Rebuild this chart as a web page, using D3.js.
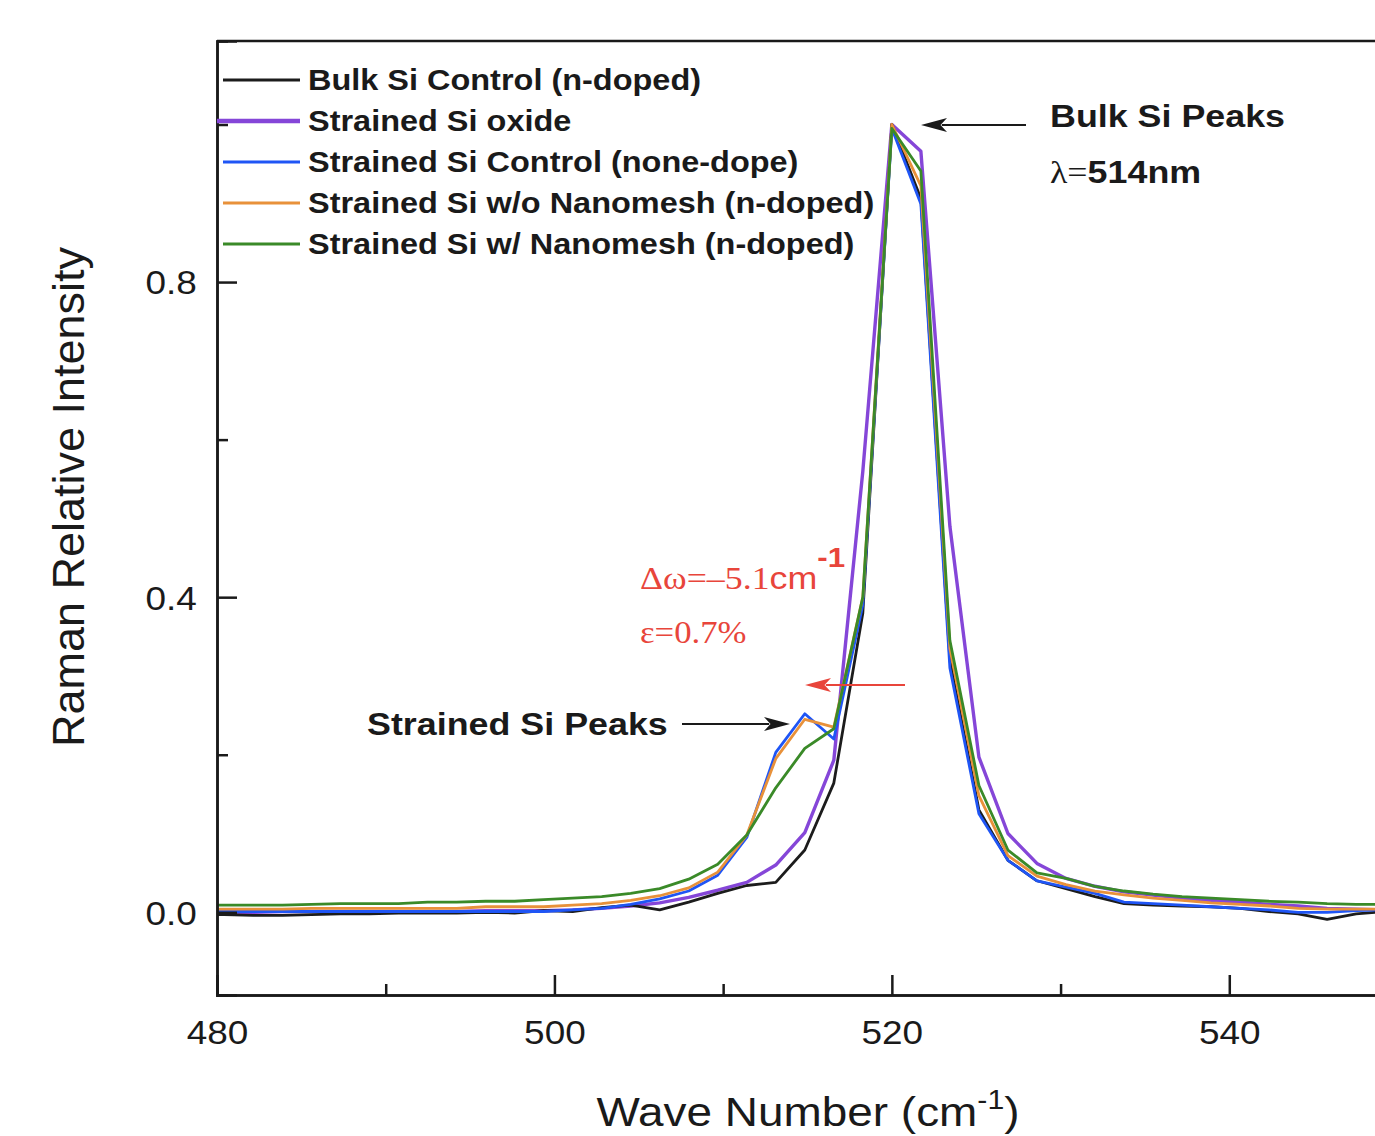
<!DOCTYPE html>
<html>
<head>
<meta charset="utf-8">
<script src="https://cdn.jsdelivr.net/npm/d3@7"></script>
<style>
  body { margin: 0; background: #fff; }
  svg { display: block; }
  .axis path, .axis line { stroke: #1a1a1a; stroke-width: 2.5; }
  .axis text { font-family: "Liberation Sans", Arial, sans-serif; fill: #1a1a1a; }
</style>
</head>
<body>
<svg id="raman"></svg>
<script>
const waveNumbers = [478.72, 480.44, 482.16, 483.88, 485.6, 487.32, 489.04, 490.76, 492.48, 494.2,
  495.92, 497.64, 499.36, 501.08, 502.8, 504.52, 506.24, 507.96, 509.68, 511.4,
  513.12, 514.84, 516.56, 518.28, 520, 521.72, 523.44, 525.16, 526.88, 528.6,
  530.32, 532.04, 533.76, 535.48, 537.2, 538.92, 540.64, 542.36, 544.08, 545.8,
  547.52, 549.24, 550.96];

const bulkControl = [-0.003, -0.003, -0.004, -0.004, -0.003, -0.002, -0.002, -0.001, -0.001, -0.001,
  0.0, -0.001, 0.002, 0.001, 0.006, 0.009, 0.003, 0.013, 0.024, 0.034,
  0.038, 0.079, 0.164, 0.38, 1.0, 0.906, 0.32, 0.13, 0.066, 0.04,
  0.03, 0.02, 0.011, 0.009, 0.008, 0.007, 0.005, 0.001, -0.002, -0.009,
  -0.002, 0.001, 0.001];

const strainedOxide = [0.0, 0.0, 0.0, 0.001, 0.001, 0.001, 0.001, 0.001, 0.001, 0.001,
  0.002, 0.002, 0.002, 0.003, 0.005, 0.008, 0.012, 0.019, 0.028, 0.038,
  0.06, 0.101, 0.193, 0.56, 1.0, 0.966, 0.49, 0.197, 0.1, 0.062,
  0.043, 0.033, 0.026, 0.022, 0.018, 0.015, 0.013, 0.01, 0.008, 0.005,
  0.004, 0.003, 0.003];

const strainedControl = [0.001, 0.001, 0.001, 0.001, 0.001, 0.001, 0.001, 0.001, 0.001, 0.001,
  0.001, 0.001, 0.001, 0.003, 0.005, 0.01, 0.017, 0.027, 0.047, 0.095,
  0.203, 0.252, 0.22, 0.39, 0.995, 0.899, 0.31, 0.125, 0.066, 0.04,
  0.032, 0.024, 0.013, 0.011, 0.009, 0.007, 0.005, 0.003, 0.0, 0.0,
  0.002, 0.003, 0.003];

const strainedNoMesh = [0.004, 0.004, 0.004, 0.004, 0.005, 0.005, 0.005, 0.005, 0.005, 0.005,
  0.007, 0.007, 0.007, 0.009, 0.011, 0.015, 0.021, 0.031, 0.051, 0.098,
  0.195, 0.245, 0.235, 0.4, 1.0, 0.922, 0.335, 0.148, 0.072, 0.046,
  0.035, 0.027, 0.022, 0.018, 0.015, 0.012, 0.01, 0.008, 0.005, 0.004,
  0.004, 0.004, 0.004];

const strainedMesh = [0.009, 0.009, 0.009, 0.009, 0.01, 0.011, 0.011, 0.011, 0.013, 0.013,
  0.014, 0.014, 0.016, 0.018, 0.02, 0.024, 0.03, 0.042, 0.061, 0.098,
  0.158, 0.208, 0.233, 0.4, 0.995, 0.941, 0.345, 0.161, 0.079, 0.05,
  0.043, 0.033, 0.027, 0.023, 0.02, 0.018, 0.016, 0.014, 0.013, 0.011,
  0.01, 0.01, 0.01];

const seriesNames = [
  "Bulk Si Control (n-doped)",
  "Strained Si oxide",
  "Strained Si Control (none-dope)",
  "Strained Si w/o Nanomesh (n-doped)",
  "Strained Si w/ Nanomesh (n-doped)"
];
const seriesValues = [bulkControl, strainedOxide, strainedControl, strainedNoMesh, strainedMesh];
const seriesColors = ["#1c1c1c", "#8546d8", "#1f55f5", "#e8913a", "#3a8a28"];
const seriesWidths = [2.8, 3.4, 2.8, 2.8, 2.8];

const xMajorTicks = [480, 500, 520, 540];
const xMinorTicks = [490, 510, 530, 550];
const yMajorTicks = [0.0, 0.4, 0.8];
const yMinorTicks = [0.2, 0.6, 1.0];

const SX = 1.12; // the figure is stretched a bit horizontally
const sans = '"Liberation Sans", Arial, sans-serif';
const serif = '"Liberation Serif", "Times New Roman", serif';

function addText(parent, x, y, str, opts = {}) {
  return parent
    .append("text")
    .attr("transform", `translate(${x}, ${y}) scale(${opts.sx || SX}, 1)`)
    .attr("font-family", opts.family || sans)
    .attr("font-size", opts.size || 30)
    .attr("font-weight", opts.weight || "normal")
    .attr("fill", opts.fill || "#1a1a1a")
    .attr("text-anchor", opts.anchor || "start")
    .text(str);
}

function arrow(parent, x1, x2, y, color, w) {
  // shaft from x1 to head at x2
  const dir = x2 > x1 ? 1 : -1;
  const headLen = 26;
  parent
    .append("line")
    .attr("x1", x1)
    .attr("x2", x2 - dir * headLen * 0.8)
    .attr("y1", y)
    .attr("y2", y)
    .attr("stroke", color)
    .attr("stroke-width", w);
  parent
    .append("path")
    .attr("d", `M${x2},${y} L${x2 - dir * headLen},${y - 7} L${x2 - dir * headLen * 0.75},${y} L${x2 - dir * headLen},${y + 7} Z`)
    .attr("fill", color);
}

function raman() {
  const svgW = 1375;
  const svgH = 1136;
  const margin = { top: 41, left: 217 };
  const width = 1181;
  const height = 954;

  const svg = d3.select("#raman").attr("width", svgW).attr("height", svgH);
  const chart = svg.append("g").attr("transform", `translate(${margin.left}, ${margin.top})`);

  const x = d3.scaleLinear().domain([480, 550]).range([0, width]);
  const y = d3.scaleLinear().domain([-0.105, 1.106]).range([height, 0]);

  svg.append("defs")
    .append("clipPath")
    .attr("id", "plotClip")
    .append("rect")
    .attr("width", width)
    .attr("height", height);

  // curves
  const plot = chart.append("g").attr("clip-path", "url(#plotClip)");
  const line = d3
    .line()
    .x(d => x(d[0]))
    .y(d => y(d[1]));

  // draw purple first so the others sit on top like in the figure
  const order = [1, 0, 2, 3, 4];
  order.forEach(i => {
    plot
      .append("path")
      .datum(waveNumbers.map((w, k) => [w, seriesValues[i][k]]))
      .attr("d", line)
      .attr("fill", "none")
      .attr("stroke", seriesColors[i])
      .attr("stroke-width", seriesWidths[i])
      .attr("stroke-linejoin", "round");
  });

  // axes - ticks point inward
  const xAxis = d3.axisBottom(x).tickValues(xMajorTicks).tickSize(-20).tickPadding(26).tickFormat(d3.format("d"));
  const xMinor = d3.axisBottom(x).tickValues(xMinorTicks).tickSize(-11).tickFormat("");
  const yAxis = d3.axisLeft(y).tickValues(yMajorTicks).tickSize(-20).tickPadding(18).tickFormat(d3.format(".1f"));
  const yMinor = d3.axisLeft(y).tickValues(yMinorTicks).tickSize(-11).tickFormat("");

  chart.append("g").attr("class", "axis").attr("transform", `translate(0, ${height})`).call(xMinor);
  chart
    .append("g")
    .attr("class", "x axis")
    .attr("transform", `translate(0, ${height})`)
    .call(xAxis)
    .selectAll(".tick text")
    .attr("font-size", 33)
    .attr("transform", `scale(${SX}, 1)`);
  chart.append("g").attr("class", "axis").call(yMinor);
  chart
    .append("g")
    .attr("class", "y axis")
    .call(yAxis)
    .selectAll(".tick text")
    .attr("font-size", 33)
    .attr("dy", "0.36em")
    .attr("transform", `scale(${SX}, 1)`);
  chart.selectAll(".axis .domain").attr("stroke-width", 2.5);

  // top frame line
  chart
    .append("line")
    .attr("x1", 0)
    .attr("x2", width)
    .attr("y1", 0)
    .attr("y2", 0)
    .attr("stroke", "#1a1a1a")
    .attr("stroke-width", 2.5);

  // legend
  const drawLeg = (name, idx) => {
    const cy = 39 + idx * 41;
    chart
      .append("line")
      .attr("x1", idx === 1 ? 0 : 6)
      .attr("x2", 83)
      .attr("y1", cy)
      .attr("y2", cy)
      .attr("stroke", seriesColors[idx])
      .attr("stroke-width", seriesWidths[idx] + (idx === 1 ? 1 : 0));
    addText(chart, 91, cy + 10, name, { size: 29, weight: "bold" });
  };
  seriesNames.forEach((n, i) => drawLeg(n, i));

  // annotations
  addText(svg, 1050, 127, "Bulk Si Peaks", { size: 32, weight: "bold" });
  const lam = addText(svg, 1050, 183, "λ=", { size: 32, family: serif });
  lam.append("tspan").attr("font-family", sans).attr("font-weight", "bold").text("514nm");
  arrow(svg, 1026, 921, 125, "#1a1a1a", 2.2);

  addText(svg, 367, 735, "Strained Si Peaks", { size: 32, weight: "bold" });
  arrow(svg, 682, 790, 724, "#1a1a1a", 2.2);

  const red = "#e8453b";
  const dw = addText(svg, 640, 589, "Δω=–5.1", { size: 32, family: serif, fill: red });
  dw.append("tspan").attr("font-family", sans).text("cm");
  dw.append("tspan").attr("font-family", sans).attr("font-weight", "bold").attr("font-size", 28).attr("dy", -22).text("-1");
  addText(svg, 640, 643, "ε=0.7%", { size: 31, family: serif, fill: red });
  arrow(svg, 905, 805, 685, red, 2.2);

  // axis titles
  const xt = addText(svg, 808, 1126, "Wave Number (cm", { size: 41, anchor: "middle" });
  xt.append("tspan").attr("font-size", 27).attr("dy", -17).text("-1");
  xt.append("tspan").attr("dy", 17).text(")");

  svg
    .append("text")
    .attr("transform", "translate(84, 497) rotate(-90)")
    .attr("font-family", sans)
    .attr("font-size", 45)
    .attr("fill", "#1a1a1a")
    .attr("text-anchor", "middle")
    .text("Raman Relative Intensity");
}

raman();
</script>
</body>
</html>
